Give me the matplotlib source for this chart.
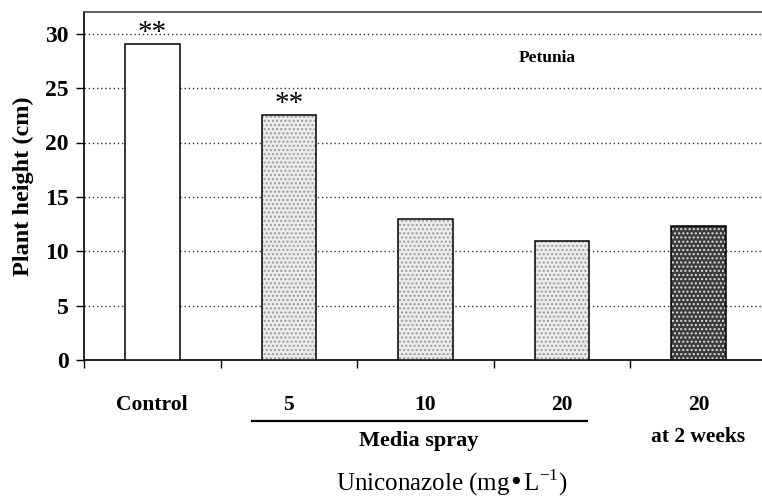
import matplotlib.pyplot as plt
import matplotlib.transforms as mtransforms

categories = ["Control", "5", "10", "20", "20"]
heights = [29.1, 22.5, 13.0, 10.9, 12.35]
stars = ["**", "**", "", "", ""]
yticks = [0, 5, 10, 15, 20, 25, 30]

plt.rcParams["font.family"] = ["Liberation Serif", "DejaVu Serif"]

fig = plt.figure(figsize=(7.62, 5.0), dpi=100)
ax = fig.add_axes([84 / 762, 0.28, 680 / 762, 0.696])

x = list(range(len(categories)))
# bar styles: open, light stipple x3, dark stipple
faces = ["white", "#ececec", "#ececec", "#ececec", "#3c3c3c"]
hatches = [None, "....", "....", "....", "...."]
hcolors = ["white", "#9a9a9a", "#9a9a9a", "#9a9a9a", "#e0e0e0"]
for i in x:
    ax.bar(i, heights[i], width=0.4, color=faces[i], hatch=hatches[i],
           edgecolor=hcolors[i], linewidth=0, zorder=3)
    ax.bar(i, heights[i], width=0.4, fill=False, edgecolor="black",
           linewidth=1.1, zorder=4)
    if stars[i]:
        ax.text(i, heights[i] - 0.2, stars[i], ha="center", va="bottom",
                fontsize=21, zorder=5)

for v in yticks[1:]:
    ax.axhline(v, color="#333333", linestyle=(0, (1, 2)), linewidth=1.0, zorder=1)

ax.set_xlim(-0.5, 4.48)
ax.set_ylim(0, 32)
ax.set_yticks(yticks)
ax.set_yticklabels([str(v) for v in yticks], fontsize=17, fontweight="bold")
ax.set_xticks([-0.5, 0.5, 1.5, 2.5, 3.5])
ax.set_xticklabels([])
ax.tick_params(axis="both", direction="out", length=6, width=1.0)
ax.tick_params(axis="y", pad=5)
ax.spines["right"].set_visible(False)
for s in ["left", "bottom", "top"]:
    ax.spines[s].set_linewidth(1.2)
ax.spines["top"].set_color("#444444")

ax.set_ylabel("Plant height (cm)", fontsize=17.5, fontweight="bold", labelpad=8)

ax.text(2.89, 27.8, "Petunia", ha="center", va="center", fontsize=12.5,
        fontweight="bold")

tr = mtransforms.blended_transform_factory(ax.transData, fig.transFigure)
for i, lab in enumerate(categories):
    ax.text(i, 0.19, lab, transform=tr, ha="center", va="center",
            fontsize=15.5, fontweight="bold")
ax.plot([0.73, 3.185], [0.158, 0.158], transform=tr, color="black",
        linewidth=1.6, clip_on=False)
ax.text(1.95, 0.118, "Media spray", transform=tr, ha="center", va="center",
        fontsize=16, fontweight="bold")
ax.text(4.0, 0.126, "at 2 weeks", transform=tr, ha="center", va="center",
        fontsize=15.5, fontweight="bold")
fig.text(0.593, 0.034, "Uniconazole (mg\u2022L$^{\\mathregular{-1}}$)",
         ha="center", va="center", fontsize=18)

fig.savefig("out.png", dpi=100)
